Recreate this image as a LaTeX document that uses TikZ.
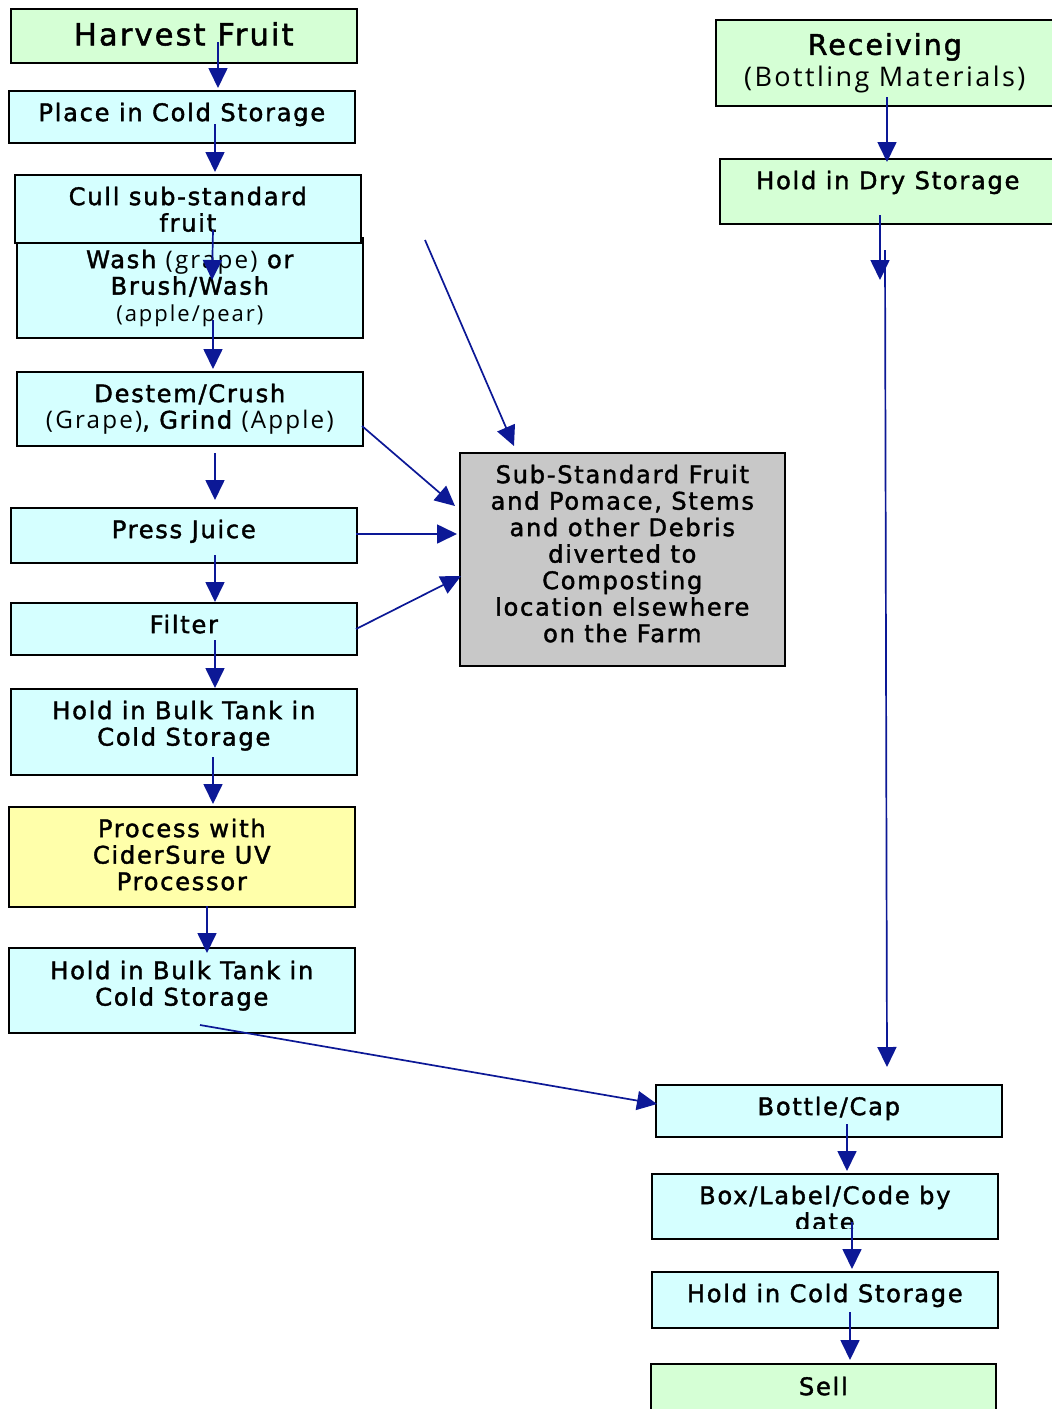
\documentclass[tikz,border=0pt]{standalone}
\usepackage{fontspec}
\setmainfont{DejaVu Sans}[LetterSpace=7,FakeBold=1.6]
\newfontfamily\pfont{Open Sans}[LetterSpace=9]
\usetikzlibrary{arrows.meta,calc}
\definecolor{gfill}{RGB}{213,255,213}
\definecolor{cfill}{RGB}{213,255,255}
\definecolor{yfill}{RGB}{255,255,170}
\definecolor{grfill}{RGB}{200,200,200}
\definecolor{arrblue}{RGB}{12,24,150}
\tikzset{
  box/.style={draw=black, line width=1.6pt, rectangle, inner sep=0pt},
  txt/.style={inner sep=0pt, align=center, font=\fontsize{24.2}{26.5}\selectfont},
  bigtxt/.style={font=\fontsize{30.5}{32}\selectfont},
  rectxt/.style={font=\fontsize{28.5}{32}\selectfont},
  arr/.style={draw=arrblue, line width=1.7pt, -{Triangle[length=20pt,width=19pt]}},
}
\newcommand{\bx}[8]{%
  \node[box,fill=#2,minimum width=#5pt,minimum height=#6pt,anchor=north west] (#1) at (#3,#4) {};
  \node[txt,anchor=north,#7] (#1t) at (#1.north) {#8};}
\begin{document}
\begin{tikzpicture}[x=1pt,y=-1pt]
\useasboundingbox[fill=white] (0,0) rectangle (1052,1409);
% left column
\bx{harvest}{gfill}{10}{8}{346}{54}{bigtxt,yshift=-14pt}{Harvest Fruit}
\bx{place}{cfill}{8}{90}{346}{52}{yshift=-12.5pt}{Place in Cold Storage}
\bx{wash}{cfill}{16}{237}{346}{100}{yshift=-12.5pt}{Wash {\pfont (grape)} or\\Brush/Wash\\{\pfont\fontsize{22}{26.5}\selectfont (apple/pear)}}
\bx{cull}{cfill}{14}{174}{346}{68}{yshift=-12.5pt}{Cull sub-standard\\fruit}
\bx{destem}{cfill}{16}{371}{346}{74}{yshift=-12.5pt}{Destem/Crush\\{\pfont (Grape)}, Grind {\pfont (Apple)}}
\bx{press}{cfill}{10}{507}{346}{55}{yshift=-12.5pt}{Press Juice}
\bx{filter}{cfill}{10}{602}{346}{52}{yshift=-12.5pt}{Filter}
\bx{hold1}{cfill}{10}{688}{346}{86}{yshift=-12.5pt}{Hold in Bulk Tank in\\Cold Storage}
\bx{process}{yfill}{8}{806}{346}{100}{yshift=-12.5pt}{Process with\\CiderSure UV\\Processor}
\bx{hold2}{cfill}{8}{947}{346}{85}{yshift=-13.5pt}{Hold in Bulk Tank in\\Cold Storage}
% gray
\bx{gray}{grfill}{459}{452}{325}{213}{yshift=-12.5pt}{Sub-Standard Fruit\\and Pomace, Stems\\and other Debris\\diverted to\\Composting\\location elsewhere\\on the Farm}
% right column
\bx{recv}{gfill}{715}{19}{338}{86}{rectxt,yshift=-14pt}{Receiving\\{\pfont\fontsize{27}{32}\selectfont (Bottling Materials)}}
\bx{dry}{gfill}{719}{158}{336}{65}{yshift=-12.5pt}{Hold in Dry Storage}
\bx{bottle}{cfill}{655}{1084}{346}{52}{yshift=-12.5pt}{Bottle/Cap}
\node[box,fill=cfill,minimum width=346pt,minimum height=65pt,anchor=north west] (boxl) at (651,1173) {};
\begin{scope}
\clip (651,1173) rectangle (997,1228);
\node[txt,anchor=north,yshift=-12.5pt] (boxlt) at (boxl.north) {Box/Label/Code by\\date};
\end{scope}
\bx{holdc}{cfill}{651}{1271}{346}{56}{yshift=-12.5pt}{Hold in Cold Storage}
\bx{sell}{gfill}{650}{1363}{345}{60}{yshift=-13.5pt}{Sell}
% free coordinates
\coordinate (cA) at (425,240);
\coordinate (dA) at (880,280);
% arrows
\draw[arr] ($(harvest.north west)+(208,34)$) -- ($(place.north west)+(210,-2)$);
\draw[arr] ($(place.north west)+(207,34)$) -- ($(cull.north west)+(201,-2)$);
\draw[arr] ($(cull.north west)+(199,56)$) -- ($(wash.north west)+(196,43)$);
\draw[arr] ($(wash.north west)+(197,83)$) -- ($(destem.north west)+(197,-2)$);
\draw[arr] ($(destem.north west)+(199,82)$) -- ($(press.north west)+(205,-7)$);
\draw[arr] ($(press.north west)+(205,48)$) -- ($(filter.north west)+(205,0)$);
\draw[arr] ($(filter.north west)+(205,38)$) -- ($(hold1.north west)+(205,0)$);
\draw[arr] ($(hold1.north west)+(203,69)$) -- ($(process.north west)+(205,-2)$);
\draw[arr] ($(process.north west)+(199,100)$) -- ($(hold2.north west)+(199,6)$);
\draw[arr] ($(hold2.north west)+(192,78)$) -- ($(bottle.north west)+(2,20)$);
\draw[arr] ($(destem.north west)+(346,55)$) -- ($(gray.north west)+(-4,54)$);
\draw[arr] ($(press.north west)+(346,27)$) -- ($(gray.north west)+(-2,82)$);
\draw[arr] ($(filter.north west)+(346,27)$) -- ($(gray.north west)+(2,124)$);
\draw[arr] (cA) -- ($(gray.north west)+(55,-6)$);
\draw[arr] ($(recv.north west)+(172,78)$) -- ($(dry.north west)+(168,4)$);
\draw[arr] ($(dry.north west)+(161,57)$) -- (dA);
\draw[arr] ($(dry.north west)+(166,92)$) -- ($(bottle.north west)+(232,-17)$);
\draw[arr] ($(bottle.north west)+(192,40)$) -- ($(boxl.north west)+(196,-2)$);
\draw[arr] ($(boxl.north west)+(201,49)$) -- ($(holdc.north west)+(201,-2)$);
\draw[arr] ($(holdc.north west)+(199,41)$) -- ($(sell.north west)+(200,-3)$);
\end{tikzpicture}
\end{document}
